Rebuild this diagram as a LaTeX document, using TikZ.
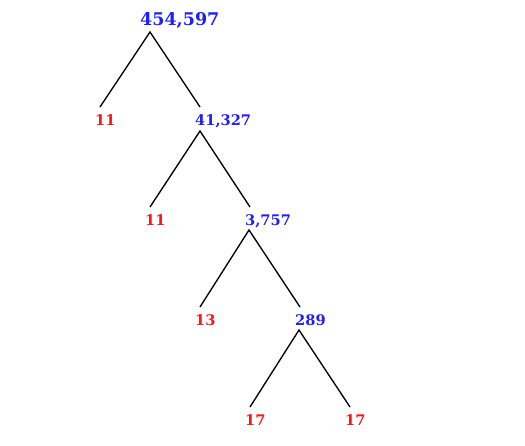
\documentclass[tikz,border=0pt]{standalone}
\usepackage{fontspec}
\setmainfont{DejaVu Serif}
\begin{document}
\begin{tikzpicture}[x=1pt,y=-1pt,
  comp/.style={text={rgb,255:red,30;green,30;blue,255}, font=\bfseries\fontsize{14.6}{16}\selectfont, anchor=base west, inner sep=0pt},
  topcomp/.style={comp, font=\bfseries\fontsize{17.5}{19}\selectfont},
  prime/.style={text={rgb,255:red,255;green,20;blue,20}, font=\bfseries\fontsize{14.6}{16}\selectfont, anchor=base west, inner sep=0pt},
  branch/.style={draw=black, line width=1.35pt}]
\useasboundingbox[fill=white] (0,0) rectangle (525,445);
\node[topcomp] (n0) at (140,25) {454,597};
\node[prime] (p1) at (95,125) {11};
\node[comp] (n1) at (195,125) {41,327};
\node[prime] (p2) at (145,225) {11};
\node[comp] (n2) at (245,225) {3,757};
\node[prime] (p3) at (195,325) {13};
\node[comp] (n3) at (295,325) {289};
\node[prime] (p4) at (245,425) {17};
\node[prime] (p5) at (345,425) {17};
\draw[branch] ([shift={(5,-18)}]p1.base west) -- ([shift={(10,7)}]n0.base west) -- ([shift={(5,-18)}]n1.base west);
\draw[branch] ([shift={(5,-18)}]p2.base west) -- ([shift={(5,6)}]n1.base west) -- ([shift={(5,-18)}]n2.base west);
\draw[branch] ([shift={(5,-18)}]p3.base west) -- ([shift={(4,5)}]n2.base west) -- ([shift={(5,-18)}]n3.base west);
\draw[branch] ([shift={(5,-18)}]p4.base west) -- ([shift={(4,5)}]n3.base west) -- ([shift={(5,-18)}]p5.base west);
\end{tikzpicture}
\end{document}
